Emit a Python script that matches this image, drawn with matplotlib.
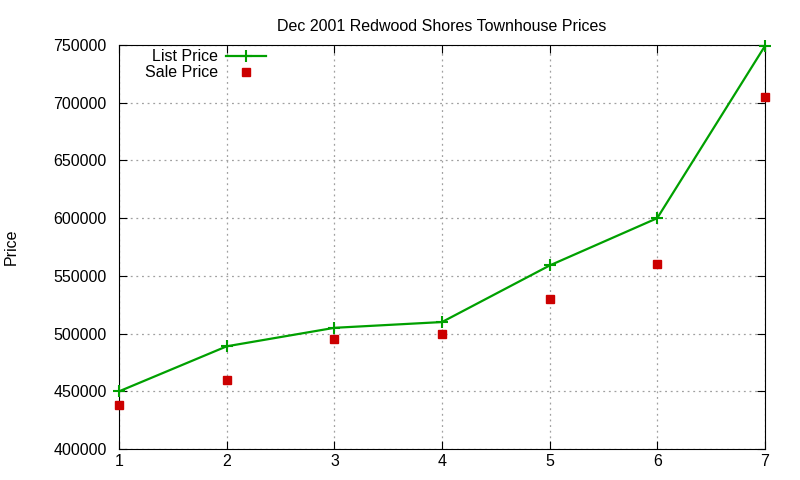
import matplotlib.pyplot as plt
import matplotlib.ticker as ticker

# values
x = [1, 2, 3, 4, 5, 6, 7]
list_price = [450000, 489000, 505000, 510000, 559000, 600000, 749000]
sale_price = [438000, 460000, 495000, 500000, 530000, 560000, 705000]

plt.rcParams['font.family'] = ['Liberation Sans', 'DejaVu Sans']
plt.rcParams['font.size'] = 11.5

fig = plt.figure(figsize=(8, 4.8), dpi=100)
ax = fig.add_axes([0.149, 0.0646, 0.807, 0.8415])

ax.plot(x, list_price, color='#00a000', marker='+', markersize=8, mew=1.5,
        linewidth=1.6, label='List Price', clip_on=False, zorder=3)
ax.plot(x, sale_price, color='#cc0000', marker='s', markersize=6, linestyle='none',
        label='Sale Price', clip_on=False, zorder=3)

ax.set_xlim(1, 7)
ax.set_ylim(400000, 750000)
ax.xaxis.set_major_locator(ticker.MultipleLocator(1))
ax.yaxis.set_major_locator(ticker.MultipleLocator(50000))
ax.tick_params(direction='in', top=True, right=True, length=6, labelsize=11.5)
ax.tick_params(axis='y', pad=9)
ax.grid(True, linestyle=(0, (1.5, 3)), color='#a0a0a0', linewidth=0.9)

ax.set_title('Dec 2001 Redwood Shores Townhouse Prices', fontsize=11.5, pad=10)
ax.set_ylabel('Price', fontsize=11.5)
ax.yaxis.set_label_coords(-0.155, 0.5)

ax.legend(loc='upper left', bbox_to_anchor=(0.017, 1.025), frameon=False,
          markerfirst=False, handlelength=2.5, handletextpad=0.5,
          labelspacing=0.05, fontsize=11.5)

fig.savefig('out.png', dpi=100)
